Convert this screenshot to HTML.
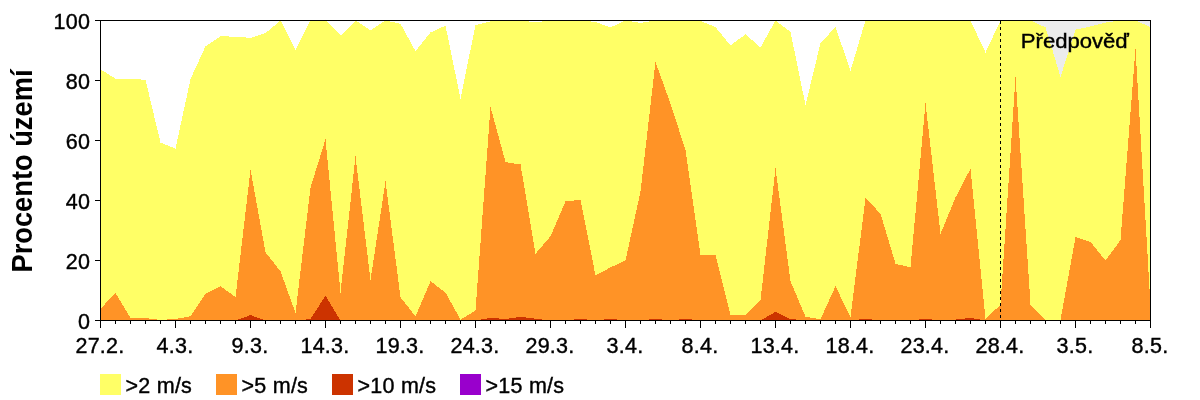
<!DOCTYPE html>
<html lang="cs"><head><meta charset="utf-8"><title>Procento území</title>
<style>html,body{margin:0;padding:0;background:#fff;overflow:hidden}body{width:1200px;height:400px;position:relative}</style></head>
<body>
<svg width="1200" height="400" viewBox="0 0 1200 400" style="position:absolute;left:0;top:0">
<rect x="0" y="0" width="1200" height="400" fill="#fff"/>
<rect x="1001" y="21" width="150" height="300" fill="#ECECEC"/>
<g shape-rendering="crispEdges">
<polygon fill="#FFFF66" points="100.50,320.50 100.50,69.40 115.50,78.70 130.50,78.70 145.50,79.90 160.50,142.60 175.50,148.60 190.50,79.00 205.50,46.30 220.50,36.25 235.50,36.70 250.50,37.90 265.50,33.10 280.50,20.50 295.50,49.90 310.50,20.50 325.50,20.50 340.50,35.50 355.50,20.50 370.50,30.40 385.50,20.50 400.50,23.80 415.50,51.25 430.50,32.50 445.50,25.60 460.50,98.80 475.50,25.00 490.50,21.40 505.50,20.50 520.50,20.50 535.50,22.30 550.50,20.50 565.50,20.50 580.50,20.50 595.50,22.00 610.50,27.40 625.50,20.50 640.50,22.90 655.50,20.50 670.50,20.50 685.50,20.50 700.50,21.10 715.50,27.10 730.50,45.40 745.50,34.30 760.50,47.50 775.50,20.50 790.50,31.90 805.50,105.10 820.50,43.00 835.50,27.10 850.50,70.60 865.50,20.50 880.50,20.50 895.50,20.50 910.50,20.50 925.50,20.50 940.50,20.50 955.50,20.50 970.50,20.50 985.50,52.60 1000.50,20.50 1015.50,20.50 1030.50,20.50 1045.50,27.40 1060.50,76.90 1075.50,29.50 1090.50,26.50 1105.50,22.60 1120.50,20.50 1135.50,20.50 1150.50,27.10 1150.50,320.50"/>
<polygon fill="#FF9326" points="100.50,320.50 100.50,308.80 115.50,292.90 130.50,318.10 145.50,318.10 160.50,319.90 175.50,319.00 190.50,316.30 205.50,293.80 220.50,286.30 235.50,297.10 250.50,169.90 265.50,252.40 280.50,271.30 295.50,313.00 310.50,187.60 325.50,139.30 340.50,292.60 355.50,156.25 370.50,280.00 385.50,181.30 400.50,297.40 415.50,316.30 430.50,281.20 445.50,292.60 460.50,319.60 475.50,310.60 490.50,106.90 505.50,162.10 520.50,164.50 535.50,253.75 550.50,236.20 565.50,201.25 580.50,199.90 595.50,275.50 610.50,267.40 625.50,260.50 640.50,191.50 655.50,61.90 670.50,103.75 685.50,150.10 700.50,254.50 715.50,255.40 730.50,315.40 745.50,315.10 760.50,300.40 775.50,168.10 790.50,281.20 805.50,316.75 820.50,319.30 835.50,286.30 850.50,316.90 865.50,198.10 880.50,213.70 895.50,263.80 910.50,267.40 925.50,103.00 940.50,233.80 955.50,197.50 970.50,168.70 985.50,318.70 1000.50,304.90 1015.50,76.90 1030.50,304.60 1045.50,319.90 1060.50,319.60 1075.50,237.10 1090.50,241.90 1105.50,260.50 1120.50,240.10 1135.50,48.70 1150.50,305.50 1150.50,320.50"/>
<polygon fill="#CC3300" points="100.50,320.50 100.50,320.50 115.50,320.50 130.50,320.50 145.50,320.50 160.50,320.50 175.50,320.50 190.50,320.50 205.50,320.50 220.50,320.50 235.50,320.50 250.50,315.10 265.50,320.50 280.50,320.50 295.50,320.50 310.50,319.00 325.50,295.75 340.50,320.50 355.50,320.50 370.50,320.50 385.50,320.50 400.50,320.50 415.50,320.50 430.50,320.50 445.50,320.50 460.50,320.50 475.50,320.50 490.50,317.80 505.50,319.00 520.50,316.90 535.50,318.70 550.50,320.50 565.50,320.50 580.50,318.70 595.50,320.50 610.50,318.70 625.50,320.50 640.50,320.50 655.50,318.70 670.50,320.50 685.50,318.70 700.50,320.50 715.50,320.50 730.50,320.50 745.50,320.50 760.50,320.50 775.50,311.89 790.50,319.00 805.50,320.50 820.50,320.50 835.50,320.50 850.50,320.50 865.50,318.70 880.50,320.50 895.50,320.50 910.50,320.50 925.50,318.70 940.50,320.50 955.50,319.60 970.50,317.95 985.50,320.50 1000.50,320.50 1015.50,320.50 1030.50,320.50 1045.50,320.50 1060.50,320.50 1075.50,320.50 1090.50,320.50 1105.50,320.50 1120.50,320.50 1135.50,320.50 1150.50,320.50 1150.50,320.50"/>
<g fill="#000">
<rect x="100" y="20" width="1051" height="1"/>
<rect x="100" y="320" width="1051" height="1"/>
<rect x="100" y="20" width="1" height="301"/>
<rect x="1150" y="20" width="1" height="301"/>
<rect x="95" y="320" width="5" height="1"/>
<rect x="95" y="260" width="5" height="1"/>
<rect x="95" y="200" width="5" height="1"/>
<rect x="95" y="140" width="5" height="1"/>
<rect x="95" y="80" width="5" height="1"/>
<rect x="95" y="20" width="5" height="1"/>
<rect x="100" y="321" width="1" height="7"/>
<rect x="115" y="321" width="1" height="3"/>
<rect x="130" y="321" width="1" height="3"/>
<rect x="145" y="321" width="1" height="3"/>
<rect x="160" y="321" width="1" height="3"/>
<rect x="175" y="321" width="1" height="7"/>
<rect x="190" y="321" width="1" height="3"/>
<rect x="205" y="321" width="1" height="3"/>
<rect x="220" y="321" width="1" height="3"/>
<rect x="235" y="321" width="1" height="3"/>
<rect x="250" y="321" width="1" height="7"/>
<rect x="265" y="321" width="1" height="3"/>
<rect x="280" y="321" width="1" height="3"/>
<rect x="295" y="321" width="1" height="3"/>
<rect x="310" y="321" width="1" height="3"/>
<rect x="325" y="321" width="1" height="7"/>
<rect x="340" y="321" width="1" height="3"/>
<rect x="355" y="321" width="1" height="3"/>
<rect x="370" y="321" width="1" height="3"/>
<rect x="385" y="321" width="1" height="3"/>
<rect x="400" y="321" width="1" height="7"/>
<rect x="415" y="321" width="1" height="3"/>
<rect x="430" y="321" width="1" height="3"/>
<rect x="445" y="321" width="1" height="3"/>
<rect x="460" y="321" width="1" height="3"/>
<rect x="475" y="321" width="1" height="7"/>
<rect x="490" y="321" width="1" height="3"/>
<rect x="505" y="321" width="1" height="3"/>
<rect x="520" y="321" width="1" height="3"/>
<rect x="535" y="321" width="1" height="3"/>
<rect x="550" y="321" width="1" height="7"/>
<rect x="565" y="321" width="1" height="3"/>
<rect x="580" y="321" width="1" height="3"/>
<rect x="595" y="321" width="1" height="3"/>
<rect x="610" y="321" width="1" height="3"/>
<rect x="625" y="321" width="1" height="7"/>
<rect x="640" y="321" width="1" height="3"/>
<rect x="655" y="321" width="1" height="3"/>
<rect x="670" y="321" width="1" height="3"/>
<rect x="685" y="321" width="1" height="3"/>
<rect x="700" y="321" width="1" height="7"/>
<rect x="715" y="321" width="1" height="3"/>
<rect x="730" y="321" width="1" height="3"/>
<rect x="745" y="321" width="1" height="3"/>
<rect x="760" y="321" width="1" height="3"/>
<rect x="775" y="321" width="1" height="7"/>
<rect x="790" y="321" width="1" height="3"/>
<rect x="805" y="321" width="1" height="3"/>
<rect x="820" y="321" width="1" height="3"/>
<rect x="835" y="321" width="1" height="3"/>
<rect x="850" y="321" width="1" height="7"/>
<rect x="865" y="321" width="1" height="3"/>
<rect x="880" y="321" width="1" height="3"/>
<rect x="895" y="321" width="1" height="3"/>
<rect x="910" y="321" width="1" height="3"/>
<rect x="925" y="321" width="1" height="7"/>
<rect x="940" y="321" width="1" height="3"/>
<rect x="955" y="321" width="1" height="3"/>
<rect x="970" y="321" width="1" height="3"/>
<rect x="985" y="321" width="1" height="3"/>
<rect x="1000" y="321" width="1" height="7"/>
<rect x="1015" y="321" width="1" height="3"/>
<rect x="1030" y="321" width="1" height="3"/>
<rect x="1045" y="321" width="1" height="3"/>
<rect x="1060" y="321" width="1" height="3"/>
<rect x="1075" y="321" width="1" height="7"/>
<rect x="1090" y="321" width="1" height="3"/>
<rect x="1105" y="321" width="1" height="3"/>
<rect x="1120" y="321" width="1" height="3"/>
<rect x="1135" y="321" width="1" height="3"/>
<rect x="1150" y="321" width="1" height="7"/>
</g>
<line x1="1000.5" y1="21" x2="1000.5" y2="320" stroke="#000" stroke-width="1" stroke-dasharray="3,3"/>
<rect x="100" y="374" width="21" height="21" fill="#FFFF66"/>
<rect x="216" y="374" width="21" height="21" fill="#FF9326"/>
<rect x="332" y="374" width="21" height="21" fill="#CC3300"/>
<rect x="460" y="374" width="21" height="21" fill="#9900CC"/>
</g>
<g font-family="'Liberation Sans', sans-serif" font-size="21.5px" letter-spacing="0.25" fill="#000" stroke="#000" stroke-width="0.4">
<text x="90.2" y="329.0" text-anchor="end">0</text>
<text x="90.2" y="269.0" text-anchor="end">20</text>
<text x="90.2" y="209.0" text-anchor="end">40</text>
<text x="90.2" y="149.0" text-anchor="end">60</text>
<text x="90.2" y="89.0" text-anchor="end">80</text>
<text x="90.2" y="29.0" text-anchor="end">100</text>
<text x="100" y="353" text-anchor="middle">27.2.</text>
<text x="175" y="353" text-anchor="middle">4.3.</text>
<text x="250" y="353" text-anchor="middle">9.3.</text>
<text x="325" y="353" text-anchor="middle">14.3.</text>
<text x="400" y="353" text-anchor="middle">19.3.</text>
<text x="475" y="353" text-anchor="middle">24.3.</text>
<text x="550" y="353" text-anchor="middle">29.3.</text>
<text x="625" y="353" text-anchor="middle">3.4.</text>
<text x="700" y="353" text-anchor="middle">8.4.</text>
<text x="775" y="353" text-anchor="middle">13.4.</text>
<text x="850" y="353" text-anchor="middle">18.4.</text>
<text x="925" y="353" text-anchor="middle">23.4.</text>
<text x="1000" y="353" text-anchor="middle">28.4.</text>
<text x="1075" y="353" text-anchor="middle">3.5.</text>
<text x="1150" y="353" text-anchor="middle">8.5.</text>
<text x="125.5" y="392.5">&gt;2 m/s</text>
<text x="241.5" y="392.5">&gt;5 m/s</text>
<text x="357.5" y="392.5">&gt;10 m/s</text>
<text x="485.5" y="392.5">&gt;15 m/s</text>
<text transform="translate(1020.8,47.5) scale(1.105,1)" font-size="20px" letter-spacing="0">Předpověď</text>
<text transform="translate(32.3,272.5) rotate(-90) scale(0.95,1)" font-size="28.7px" letter-spacing="0" font-weight="bold" stroke="none">Procento území</text>
</g>
</svg>
</body></html>
